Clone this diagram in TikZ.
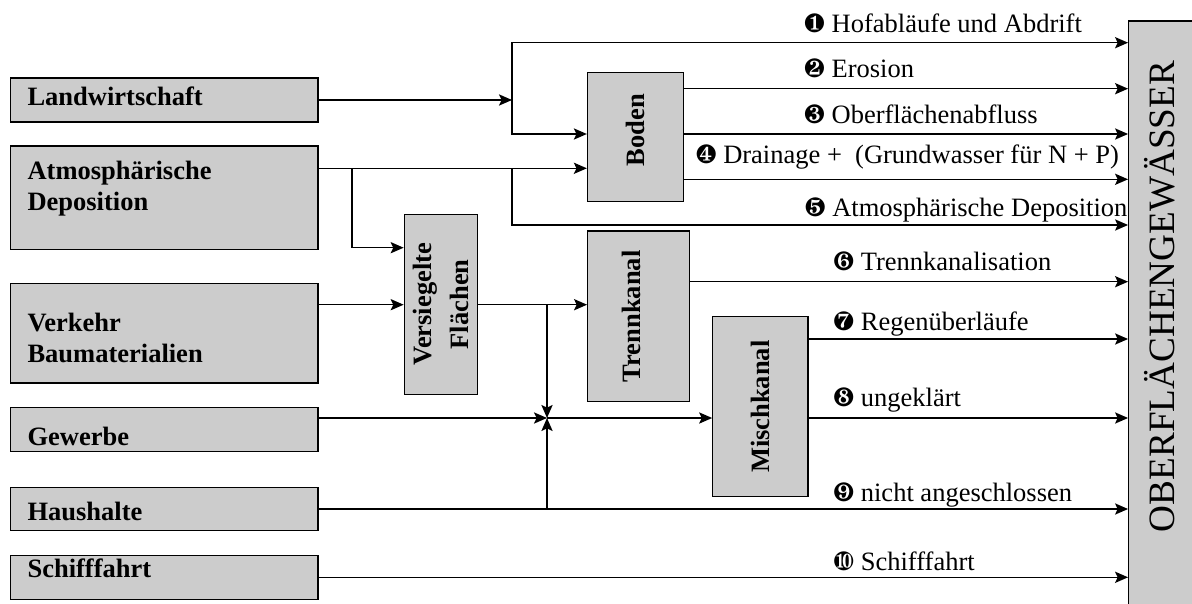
\documentclass[tikz,border=0pt]{standalone}
\usepackage{fontspec}
\setmainfont{Liberation Serif}
\usepackage{pifont}
\usetikzlibrary{arrows.meta}

\begin{document}
\begin{tikzpicture}
        [x=0.5pt,y=-0.5pt,>={Stealth[length=6.5pt,width=5.6pt,inset=1.3pt]},line width=0.75pt,
        box/.style={draw,fill=black!20,line width=0.65pt,inner sep=0pt},
        source/.style={box,minimum width=153.75pt},
        srctext/.style={anchor=base west,align=left,inner sep=0pt,font=\fontsize{13.25pt}{15.25pt}\selectfont\bfseries},
        stage/.style={box,rotate=90,align=center,font=\fontsize{13.25pt}{18.9pt}\selectfont\bfseries},
        flow/.style={anchor=base west,inner sep=0pt,font=\fontsize{13.25pt}{15.25pt}\selectfont}]
    
    \useasboundingbox (0,0) rectangle (1192,604);
    
    % Quellen
    \node[source,minimum height=22pt] (lw) at (164.25,100) {};
    \node[source,minimum height=51.75pt] (atm) at (164.25,197.8) {};
    \node[source,minimum height=49.85pt] (vk) at (164.25,333.2) {};
    \node[source,minimum height=22pt] (gw) at (164.25,429.7) {};
    \node[source,minimum height=21.7pt] (hh) at (164.25,509) {};
    \node[source,minimum height=22pt] (sf) at (164.25,577.3) {};
    
    % base = letzte Zeile
    \node[srctext] (lw-t) at (26.8,105.3) {Landwirtschaft};
    \node[srctext] (atm-t) at (26.8,210.5) {Atmosphärische\\Deposition};
    \node[srctext] (vk-t) at (26.8,362.3) {Verkehr\\Baumaterialien};
    \node[srctext] (gw-t) at (26.8,445) {Gewerbe};
    \node[srctext] (hh-t) at (26.8,520.7) {Haushalte};
    \node[srctext] (sf-t) at (26.8,577.3) {Schifffahrt};
    
    % Pfade
    \node[stage,minimum width=64.7pt,minimum height=47.9pt] (boden) at (635.4,137) {\hspace*{7pt}Boden};
    \node[stage,minimum width=90pt,minimum height=36.7pt] (vf) at (441,304.3) {Versiegelte\\Flächen};
    \node[stage,minimum width=85.35pt,minimum height=50.8pt] (tk) at (638.5,316.35) {\raisebox{-0.75pt}[0pt][0pt]{Trennkanal}};
    \node[stage,minimum width=90pt,minimum height=47.6pt] (mk) at (760.4,406.7) {Mischkanal};
    
    % Ziel
    \node[box,minimum width=50.65pt,minimum height=314.5pt] (ow) at (1179.35,335.5) {};
    \node[rotate=90,anchor=base,inner sep=0pt,font=\fontsize{18.6pt}{22pt}\selectfont] (ow-t) at (1174,296.5) {OBERFLÄCHENGEWÄSSER};
    
    % Hoehen der Eintraege
    \coordinate (f1) at (0,42.7);
    \coordinate (f2) at (0,88.7);
    \coordinate (f3) at (0,134);
    \coordinate (f4) at (0,179.3);
    \coordinate (f5) at (0,225);
    \coordinate (f6) at (0,281.7);
    \coordinate (f7) at (0,339);
    \coordinate (f8) at (0,418);
    \coordinate (atmline) at (0,168.3);
    \coordinate (vfin) at (0,247.7);
    \coordinate (vkline) at (0,304.7);
    
    \coordinate (lwsplit) at (512,100);
    \coordinate (atmsplit1) at (352,168.3);
    \coordinate (atmsplit2) at (512,168.3);
    \coordinate (vfsplit) at (547,304.7);
    \coordinate (hhsplit) at (547,509);
    \coordinate (mix) at (547,418);
    
    \draw[->] (lw) -- (lwsplit);
    \draw[->] (lwsplit) |- (ow.west |- f1);
    \draw[->] (lwsplit) |- (boden.north |- f3);
    
    \draw[->] (atm.east |- atmline) -- (boden.north |- atmline);
    \draw[->] (atmsplit1) |- (vf.north |- vfin);
    \draw[->] (atmsplit2) |- (ow.west |- f5);
    
    \draw[->] (vk.east |- vkline) -- (vf.north |- vkline);
    \draw[->] (vf.south |- vkline) -- (tk.north |- vkline);
    \draw[->] (vfsplit) -- (mix);
    
    \draw[->] (gw.east |- mix) -- (mix);
    \draw[->] (mix) -- (mk.north |- mix);
    \draw[->] (hhsplit) -- (mix);
    \draw[->] (hh) -- (ow.west |- hh);
    \draw[->] (sf) -- (ow.west |- sf);
    
    \draw[->] (boden.south |- f2) -- (ow.west |- f2);
    \draw[->] (boden.south |- f3) -- (ow.west |- f3);
    \draw[->] (boden.south |- f4) -- (ow.west |- f4);
    \draw[->] (tk.south |- f6) -- (ow.west |- f6);
    \draw[->] (mk.south |- f7) -- (ow.west |- f7);
    \draw[->] (mk.south |- f8) -- (ow.west |- f8);
    
    % Beschriftung
    \node[flow] (l1) at (803.4,32.3) {\ding{182} Hofabläufe und Abdrift};
    \node[flow] (l2) at (803.4,77.3) {\ding{183} Erosion};
    \node[flow] (l3) at (803.4,123.3) {\ding{184} Oberflächenabfluss};
    \node[flow] (l4) at (695,164) {\ding{185} Drainage +\ \ (Grundwasser für N + P)};
    \node[flow] (l5) at (804,216.5) {\ding{186} Atmosphärische Deposition};
    \node[flow] (l6) at (832.6,270) {\ding{187} Trennkanalisation};
    \node[flow] (l7) at (832.6,330.7) {\ding{188} Regenüberläufe};
    \node[flow] (l8) at (832.6,406.7) {\ding{189} ungeklärt};
    \node[flow] (l9) at (832.6,501) {\ding{190} nicht angeschlossen};
    \node[flow] (l10) at (832.6,570) {\ding{191} Schifffahrt};
    
    \end{tikzpicture}
\end{document}
